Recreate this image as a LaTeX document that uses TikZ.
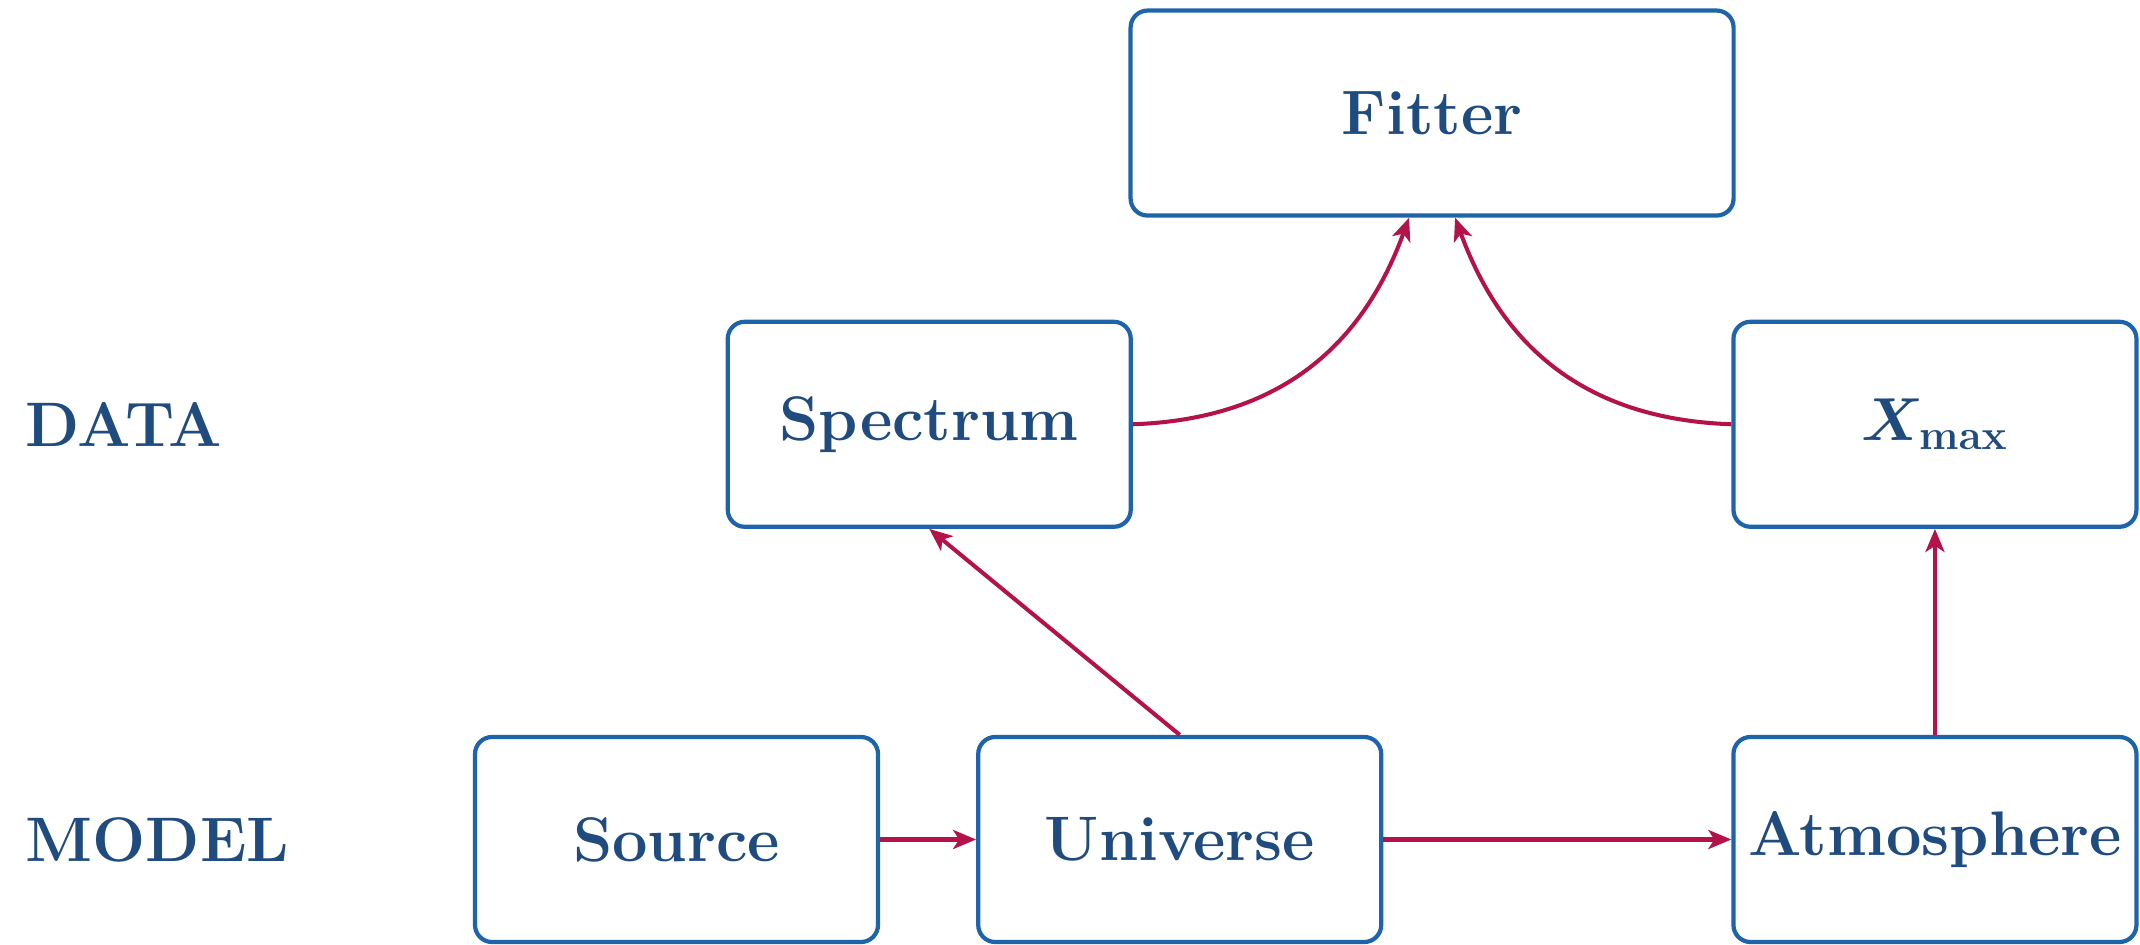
\documentclass[tikz,border=0pt]{standalone}
\usepackage{tikz}
\usetikzlibrary{arrows.meta, positioning, calc}
\definecolor{boxblue}{HTML}{1E64AA}
\definecolor{textblue}{HTML}{1F4B7E}
\definecolor{linkred}{HTML}{B4124A}

\begin{document}
\begin{tikzpicture}[node distance=2.06cm and 0.96cm,
                    font=\fontsize{17.9}{21}\selectfont\bfseries, text=textblue,
                    block/.style={rectangle, draw=boxblue, line width=1.2pt, rounded corners=0.17cm, align=center, minimum height=2.05cm, minimum width=4.03cm},
                    rowlabel/.style={anchor=west, inner sep=0pt},
                    link/.style={draw=linkred, line width=1.15pt, -{Stealth[length=0.23cm, width=0.19cm, inset=0.06cm]}}]

    \useasboundingbox (0,0) rectangle (21.4,9.44);

    % Model row
    \node[block] (source) at (6.765,1.045) {Source};
    \node[block, right=of source] (universe) {Universe};
    \node[block, right=of universe, xshift=2.52cm] (atmosphere) {Atmosphere};

    % Data row
    \node[block, above=of universe, xshift=-2.505cm] (spectrum) {Spectrum};
    \node[block, above=of atmosphere] (xmax) {{\boldmath$X_{\mathrm{max}}$}};

    \node[block, above=1.02cm of $(spectrum.north)!0.5!(xmax.north)$, anchor=south, minimum width=6.03cm] (fitter) {Fitter};

    % Row labels
    \node[rowlabel] (model) at ($(source.west)+(-4.48,0)$) {MODEL};
    \node[rowlabel] (data) at (model.west |- spectrum) {DATA};

    % Connections
    \draw[link] (source) -- (universe);
    \draw[link] (universe) -- (atmosphere);
    \draw[link] (universe.north) -- (spectrum.south);
    \draw[link] (atmosphere) -- (xmax);
    \draw[link] (spectrum.east) to[out=2, in=-110, looseness=1.05] ([xshift=-0.23cm]fitter.south);
    \draw[link] (xmax.west) to[out=178, in=-70, looseness=1.05] ([xshift=0.23cm]fitter.south);

\end{tikzpicture}
\end{document}
